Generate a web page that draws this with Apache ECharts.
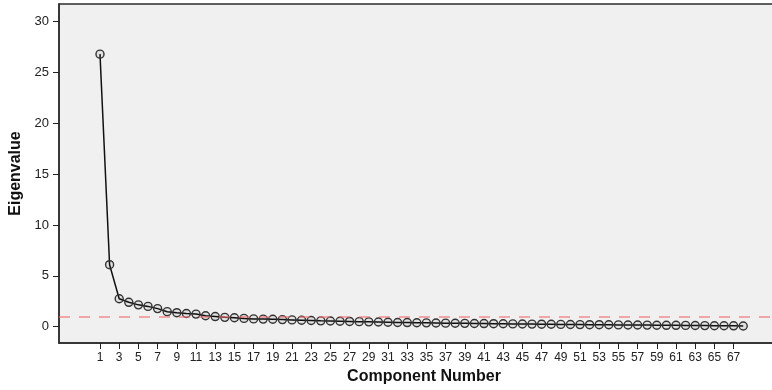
<!DOCTYPE html>
<html>
<head>
<meta charset="utf-8">
<script src="https://cdn.jsdelivr.net/npm/echarts@6/dist/echarts.min.js"></script>
<style>
  html, body { margin: 0; padding: 0; background: #fff; }
  #main { width: 772px; height: 390px; }
</style>
</head>
<body>
<div id="main"></div>
<script>
// scree plot data
var components = [];
for (var i = 1; i <= 68; i++) components.push(i);

var eigenvalues = [
  26.8, 6.1, 2.75, 2.4, 2.15, 2.0, 1.78, 1.48, 1.38, 1.3,
  1.24, 1.08, 1.0, 0.92, 0.88, 0.82, 0.77, 0.75, 0.73, 0.7,
  0.67, 0.64, 0.61, 0.58, 0.56, 0.54, 0.52, 0.5, 0.48, 0.46,
  0.44, 0.42, 0.41, 0.39, 0.38, 0.37, 0.35, 0.34, 0.33, 0.32,
  0.31, 0.3, 0.29, 0.28, 0.27, 0.26, 0.25, 0.24, 0.23, 0.22,
  0.21, 0.2, 0.2, 0.19, 0.18, 0.17, 0.17, 0.16, 0.15, 0.14,
  0.14, 0.13, 0.12, 0.11, 0.1, 0.1, 0.09, 0.07
];

var xTicks = [];
for (var k = 1; k <= 67; k += 2) xTicks.push(k);
var yTicks = [0, 5, 10, 15, 20, 25, 30];
var cutoff = 1;

function init_scree(container) {
  var chartDom = document.getElementById(container);
  var myChart = echarts.init(chartDom);
  var option;

  var points = components.map(function (c, i) {
    return [c, eigenvalues[i]];
  });

  option = {
    animation: false,
    textStyle: { fontFamily: "Liberation Sans, Arial, sans-serif" },
    grid: {
      left: 59,
      top: 4,
      width: 730,
      height: 339,
      outerBoundsMode: "none",
      containLabel: false,
      show: true,
      backgroundColor: "#f0f0f0",
      borderColor: "#2b2b2b",
      borderWidth: 1.5,
    },
    xAxis: {
      type: "value",
      name: "Component Number",
      nameLocation: "middle",
      nameGap: 25,
      nameTextStyle: { color: "#111", fontSize: 16, fontWeight: "bold" },
      min: -3.27,
      max: 72.77,
      axisLine: { show: true, onZero: false, lineStyle: { color: "#2b2b2b", width: 1.5 } },
      axisTick: {
        show: true,
        length: 6,
        customValues: xTicks,
        lineStyle: { color: "#222", width: 1 },
      },
      axisLabel: {
        customValues: xTicks,
        color: "#222",
        fontSize: 12,
        margin: 9,
      },
      splitLine: { show: false },
    },
    yAxis: {
      type: "value",
      name: "Eigenvalue",
      nameLocation: "middle",
      nameRotate: 90,
      nameGap: 30,
      nameTextStyle: { color: "#111", fontSize: 16, fontWeight: "bold" },
      min: -1.6,
      max: 31.73,
      axisLine: { show: true, onZero: false, lineStyle: { color: "#2b2b2b", width: 1.5 } },
      axisTick: {
        show: true,
        length: 6,
        customValues: yTicks,
        lineStyle: { color: "#222", width: 1 },
      },
      axisLabel: {
        customValues: yTicks,
        color: "#222",
        fontSize: 13,
        margin: 10,
      },
      splitLine: { show: false },
    },
    series: [
      {
        type: "line",
        data: points,
        symbol: "circle",
        symbolSize: 8,
        lineStyle: { color: "#111", width: 1.5 },
        itemStyle: {
          color: "rgba(0,0,0,0.06)",
          borderColor: "#333",
          borderWidth: 1.4,
        },
        markLine: {
          silent: true,
          symbol: "none",
          label: { show: false },
          lineStyle: { color: "rgba(240,110,110,0.75)", type: [11, 9], width: 1.5 },
          data: [{ yAxis: cutoff }],
        },
      },
    ],
  };

  option && myChart.setOption(option);
}

init_scree("main");
</script>
</body>
</html>
